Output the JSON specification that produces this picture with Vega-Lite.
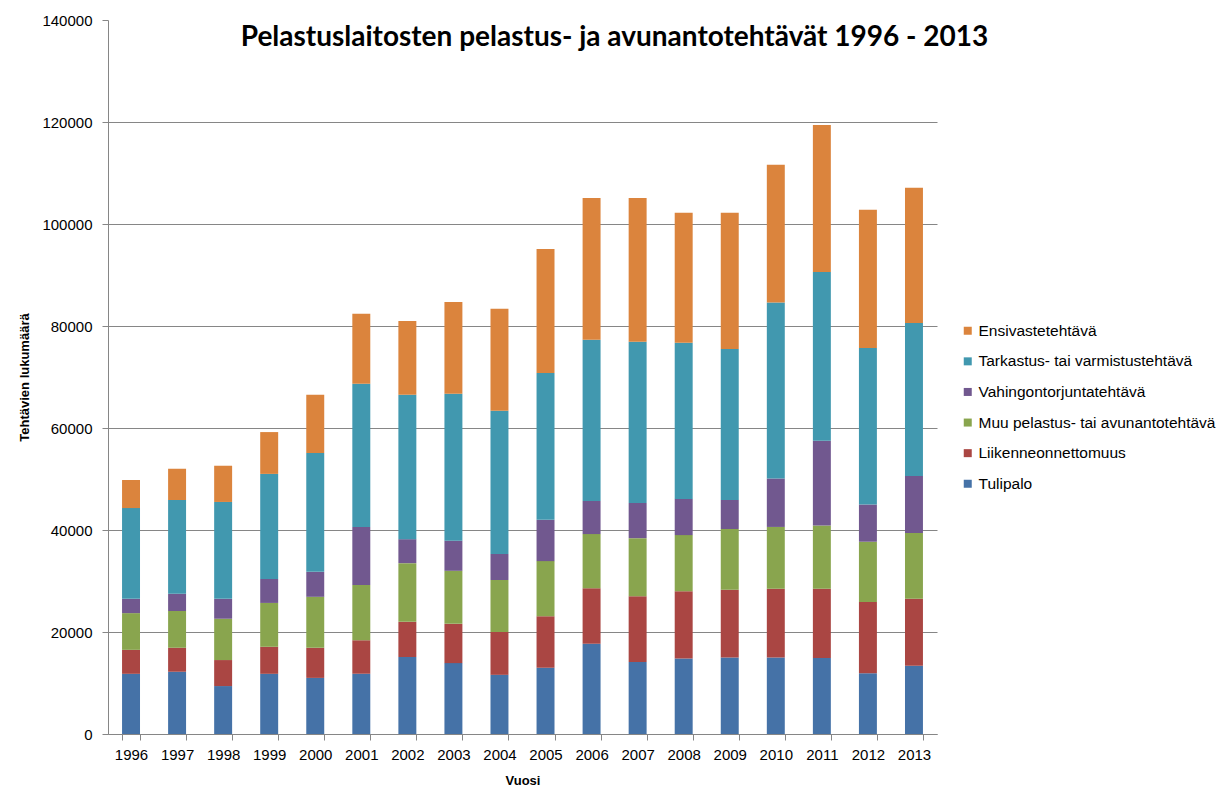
{
  "$schema": "https://vega.github.io/schema/vega-lite/v6.json",
  "autosize": {"type": "none"},
  "width": 829,
  "height": 714,
  "padding": {"left": 108, "top": 20, "right": 294, "bottom": 74},
  "background": "white",
  "title": {
    "text": "Pelastuslaitosten  pelastus- ja avunantotehtävät 1996 - 2013",
    "frame": "group",
    "anchor": "middle",
    "orient": "top",
    "baseline": "alphabetic",
    "offset": -61,
    "dx": 92,
    "font": "Lato",
    "fontSize": 28,
    "fontWeight": "bold",
    "color": "#000000"
  },
  "datasets": {
    "typeOrder": [
      {"type": "Tulipalo", "rank": 1},
      {"type": "Liikenneonnettomuus", "rank": 2},
      {"type": "Muu pelastus- tai avunantotehtävä", "rank": 3},
      {"type": "Vahingontorjuntatehtävä", "rank": 4},
      {"type": "Tarkastus- tai varmistustehtävä", "rank": 5},
      {"type": "Ensivastetehtävä", "rank": 6}
    ]
  },
  "data": {
    "values": [
      {"year": "1996", "type": "Tulipalo", "count": 11800},
      {"year": "1996", "type": "Liikenneonnettomuus", "count": 4700},
      {"year": "1996", "type": "Muu pelastus- tai avunantotehtävä", "count": 7200},
      {"year": "1996", "type": "Vahingontorjuntatehtävä", "count": 2800},
      {"year": "1996", "type": "Tarkastus- tai varmistustehtävä", "count": 17800},
      {"year": "1996", "type": "Ensivastetehtävä", "count": 5500},
      {"year": "1997", "type": "Tulipalo", "count": 12200},
      {"year": "1997", "type": "Liikenneonnettomuus", "count": 4700},
      {"year": "1997", "type": "Muu pelastus- tai avunantotehtävä", "count": 7200},
      {"year": "1997", "type": "Vahingontorjuntatehtävä", "count": 3400},
      {"year": "1997", "type": "Tarkastus- tai varmistustehtävä", "count": 18400},
      {"year": "1997", "type": "Ensivastetehtävä", "count": 6100},
      {"year": "1998", "type": "Tulipalo", "count": 9400},
      {"year": "1998", "type": "Liikenneonnettomuus", "count": 5100},
      {"year": "1998", "type": "Muu pelastus- tai avunantotehtävä", "count": 8100},
      {"year": "1998", "type": "Vahingontorjuntatehtävä", "count": 3900},
      {"year": "1998", "type": "Tarkastus- tai varmistustehtävä", "count": 19000},
      {"year": "1998", "type": "Ensivastetehtävä", "count": 7100},
      {"year": "1999", "type": "Tulipalo", "count": 11800},
      {"year": "1999", "type": "Liikenneonnettomuus", "count": 5300},
      {"year": "1999", "type": "Muu pelastus- tai avunantotehtävä", "count": 8600},
      {"year": "1999", "type": "Vahingontorjuntatehtävä", "count": 4700},
      {"year": "1999", "type": "Tarkastus- tai varmistustehtävä", "count": 20600},
      {"year": "1999", "type": "Ensivastetehtävä", "count": 8200},
      {"year": "2000", "type": "Tulipalo", "count": 11000},
      {"year": "2000", "type": "Liikenneonnettomuus", "count": 5900},
      {"year": "2000", "type": "Muu pelastus- tai avunantotehtävä", "count": 10000},
      {"year": "2000", "type": "Vahingontorjuntatehtävä", "count": 4900},
      {"year": "2000", "type": "Tarkastus- tai varmistustehtävä", "count": 23300},
      {"year": "2000", "type": "Ensivastetehtävä", "count": 11400},
      {"year": "2001", "type": "Tulipalo", "count": 11800},
      {"year": "2001", "type": "Liikenneonnettomuus", "count": 6600},
      {"year": "2001", "type": "Muu pelastus- tai avunantotehtävä", "count": 10800},
      {"year": "2001", "type": "Vahingontorjuntatehtävä", "count": 11400},
      {"year": "2001", "type": "Tarkastus- tai varmistustehtävä", "count": 28100},
      {"year": "2001", "type": "Ensivastetehtävä", "count": 13700},
      {"year": "2002", "type": "Tulipalo", "count": 15100},
      {"year": "2002", "type": "Liikenneonnettomuus", "count": 6900},
      {"year": "2002", "type": "Muu pelastus- tai avunantotehtävä", "count": 11500},
      {"year": "2002", "type": "Vahingontorjuntatehtävä", "count": 4700},
      {"year": "2002", "type": "Tarkastus- tai varmistustehtävä", "count": 28300},
      {"year": "2002", "type": "Ensivastetehtävä", "count": 14500},
      {"year": "2003", "type": "Tulipalo", "count": 13900},
      {"year": "2003", "type": "Liikenneonnettomuus", "count": 7700},
      {"year": "2003", "type": "Muu pelastus- tai avunantotehtävä", "count": 10400},
      {"year": "2003", "type": "Vahingontorjuntatehtävä", "count": 5900},
      {"year": "2003", "type": "Tarkastus- tai varmistustehtävä", "count": 28800},
      {"year": "2003", "type": "Ensivastetehtävä", "count": 18000},
      {"year": "2004", "type": "Tulipalo", "count": 11600},
      {"year": "2004", "type": "Liikenneonnettomuus", "count": 8400},
      {"year": "2004", "type": "Muu pelastus- tai avunantotehtävä", "count": 10200},
      {"year": "2004", "type": "Vahingontorjuntatehtävä", "count": 5100},
      {"year": "2004", "type": "Tarkastus- tai varmistustehtävä", "count": 28100},
      {"year": "2004", "type": "Ensivastetehtävä", "count": 20000},
      {"year": "2005", "type": "Tulipalo", "count": 13000},
      {"year": "2005", "type": "Liikenneonnettomuus", "count": 10100},
      {"year": "2005", "type": "Muu pelastus- tai avunantotehtävä", "count": 10800},
      {"year": "2005", "type": "Vahingontorjuntatehtävä", "count": 8100},
      {"year": "2005", "type": "Tarkastus- tai varmistustehtävä", "count": 28800},
      {"year": "2005", "type": "Ensivastetehtävä", "count": 24300},
      {"year": "2006", "type": "Tulipalo", "count": 17700},
      {"year": "2006", "type": "Liikenneonnettomuus", "count": 10900},
      {"year": "2006", "type": "Muu pelastus- tai avunantotehtävä", "count": 10600},
      {"year": "2006", "type": "Vahingontorjuntatehtävä", "count": 6500},
      {"year": "2006", "type": "Tarkastus- tai varmistustehtävä", "count": 31600},
      {"year": "2006", "type": "Ensivastetehtävä", "count": 27800},
      {"year": "2007", "type": "Tulipalo", "count": 14100},
      {"year": "2007", "type": "Liikenneonnettomuus", "count": 12900},
      {"year": "2007", "type": "Muu pelastus- tai avunantotehtävä", "count": 11400},
      {"year": "2007", "type": "Vahingontorjuntatehtävä", "count": 6900},
      {"year": "2007", "type": "Tarkastus- tai varmistustehtävä", "count": 31600},
      {"year": "2007", "type": "Ensivastetehtävä", "count": 28200},
      {"year": "2008", "type": "Tulipalo", "count": 14800},
      {"year": "2008", "type": "Liikenneonnettomuus", "count": 13200},
      {"year": "2008", "type": "Muu pelastus- tai avunantotehtävä", "count": 11000},
      {"year": "2008", "type": "Vahingontorjuntatehtävä", "count": 7100},
      {"year": "2008", "type": "Tarkastus- tai varmistustehtävä", "count": 30600},
      {"year": "2008", "type": "Ensivastetehtävä", "count": 25500},
      {"year": "2009", "type": "Tulipalo", "count": 15000},
      {"year": "2009", "type": "Liikenneonnettomuus", "count": 13300},
      {"year": "2009", "type": "Muu pelastus- tai avunantotehtävä", "count": 11900},
      {"year": "2009", "type": "Vahingontorjuntatehtävä", "count": 5700},
      {"year": "2009", "type": "Tarkastus- tai varmistustehtävä", "count": 29600},
      {"year": "2009", "type": "Ensivastetehtävä", "count": 26700},
      {"year": "2010", "type": "Tulipalo", "count": 15000},
      {"year": "2010", "type": "Liikenneonnettomuus", "count": 13500},
      {"year": "2010", "type": "Muu pelastus- tai avunantotehtävä", "count": 12100},
      {"year": "2010", "type": "Vahingontorjuntatehtävä", "count": 9500},
      {"year": "2010", "type": "Tarkastus- tai varmistustehtävä", "count": 34500},
      {"year": "2010", "type": "Ensivastetehtävä", "count": 27000},
      {"year": "2011", "type": "Tulipalo", "count": 14900},
      {"year": "2011", "type": "Liikenneonnettomuus", "count": 13600},
      {"year": "2011", "type": "Muu pelastus- tai avunantotehtävä", "count": 12400},
      {"year": "2011", "type": "Vahingontorjuntatehtävä", "count": 16600},
      {"year": "2011", "type": "Tarkastus- tai varmistustehtävä", "count": 33100},
      {"year": "2011", "type": "Ensivastetehtävä", "count": 28800},
      {"year": "2012", "type": "Tulipalo", "count": 11900},
      {"year": "2012", "type": "Liikenneonnettomuus", "count": 14000},
      {"year": "2012", "type": "Muu pelastus- tai avunantotehtävä", "count": 11800},
      {"year": "2012", "type": "Vahingontorjuntatehtävä", "count": 7300},
      {"year": "2012", "type": "Tarkastus- tai varmistustehtävä", "count": 30700},
      {"year": "2012", "type": "Ensivastetehtävä", "count": 27100},
      {"year": "2013", "type": "Tulipalo", "count": 13400},
      {"year": "2013", "type": "Liikenneonnettomuus", "count": 13100},
      {"year": "2013", "type": "Muu pelastus- tai avunantotehtävä", "count": 12900},
      {"year": "2013", "type": "Vahingontorjuntatehtävä", "count": 11200},
      {"year": "2013", "type": "Tarkastus- tai varmistustehtävä", "count": 30000},
      {"year": "2013", "type": "Ensivastetehtävä", "count": 26500}
    ]
  },
  "transform": [
    {"lookup": "type", "from": {"data": {"name": "typeOrder"}, "key": "type", "fields": ["rank"]}}
  ],
  "mark": {"type": "bar"},
  "encoding": {
    "x": {
      "field": "year",
      "type": "ordinal",
      "scale": {"paddingInner": 0.61, "paddingOuter": 0.305},
      "axis": {
        "title": "Vuosi",
        "labelAngle": 0,
        "tickBand": "extent",
        "tickSize": 6,
        "labelPadding": 7,
        "titlePadding": 12
      }
    },
    "y": {
      "field": "count",
      "type": "quantitative",
      "stack": "zero",
      "scale": {"domain": [0, 140000], "nice": false},
      "axis": {
        "title": "Tehtävien lukumäärä",
        "values": [0, 20000, 40000, 60000, 80000, 100000, 120000, 140000],
        "format": "d",
        "tickSize": 6,
        "labelPadding": 10,
        "titlePadding": 10,
        "grid": true,
        "gridOpacity": {"condition": {"test": "datum.value == 140000", "value": 0}, "value": 1}
      }
    },
    "order": {"field": "rank", "type": "quantitative", "sort": "ascending"},
    "color": {
      "field": "type",
      "type": "nominal",
      "scale": {
        "domain": ["Tulipalo", "Liikenneonnettomuus", "Muu pelastus- tai avunantotehtävä", "Vahingontorjuntatehtävä", "Tarkastus- tai varmistustehtävä", "Ensivastetehtävä"],
        "range": ["#4572A7", "#AA4643", "#89A54E", "#71588F", "#4198AF", "#DB843D"]
      },
      "legend": {
        "title": null,
        "orient": "none",
        "legendX": 852,
        "legendY": 303,
        "values": ["Ensivastetehtävä", "Tarkastus- tai varmistustehtävä", "Vahingontorjuntatehtävä", "Muu pelastus- tai avunantotehtävä", "Liikenneonnettomuus", "Tulipalo"],
        "symbolType": "square",
        "symbolSize": 64,
        "symbolStrokeWidth": 0,
        "labelOffset": 3,
        "rowPadding": 13.6,
        "labelFontSize": 15.5,
        "labelLimit": 300
      }
    }
  },
  "config": {
    "font": "Lato",
    "view": {"stroke": null},
    "axis": {
      "domainColor": "#868686",
      "tickColor": "#868686",
      "gridColor": "#868686",
      "domainWidth": 1,
      "labelFont": "Liberation Sans",
      "labelFontSize": 15,
      "labelColor": "#000000",
      "titleFont": "Liberation Sans",
      "titleFontSize": 13,
      "titleFontWeight": "bold",
      "titleColor": "#000000"
    },
    "legend": {
      "labelFont": "Liberation Sans",
      "labelColor": "#000000"
    }
  }
}
